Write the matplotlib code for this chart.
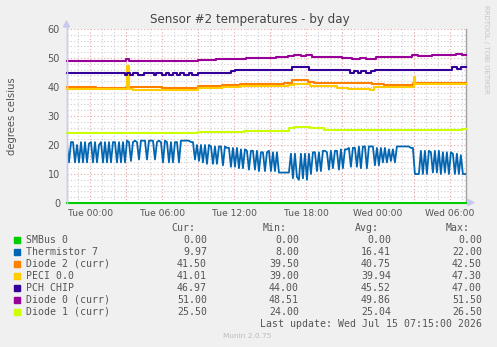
import matplotlib
matplotlib.use("Agg")
import matplotlib.pyplot as plt
from matplotlib.patches import Rectangle, Polygon
import numpy as np

W, H = 497, 347

# ---------------- data ----------------
names = ["SMBus 0", "Thermistor 7", "Diode 2 (curr)", "PECI 0.0",
         "PCH CHIP", "Diode 0 (curr)", "Diode 1 (curr)"]
colors = ["#00cc00", "#0066b3", "#ff8000", "#ffcc00",
          "#330099", "#990099", "#ccff00"]
cur = ["0.00", "9.97", "41.50", "41.01", "46.97", "51.00", "25.50"]
mins = ["0.00", "8.00", "39.50", "39.00", "44.00", "48.51", "24.00"]
avgs = ["0.00", "16.41", "40.75", "39.94", "45.52", "49.86", "25.04"]
maxs = ["0.00", "22.00", "42.50", "47.30", "47.00", "51.50", "26.50"]

x_start, x_end = -1.93, 31.33          # hours relative to Tue 00:00
tick_hours = [0, 6, 12, 18, 24, 30]
tick_labels = ["Tue 00:00", "Tue 06:00", "Tue 12:00",
               "Tue 18:00", "Wed 00:00", "Wed 06:00"]

smbus_t = [-1.93]
smbus_v = [0.0]

# Thermistor 7 : one value every 10 minutes
therm_step = 1 / 6
therm_v = [20, 14, 21, 21, 14, 20, 14, 21, 14, 21,
           14, 20.5, 21, 14, 21, 14, 20, 21, 14, 21,
           14, 21, 14, 21, 21, 14, 21, 14, 21, 14,
           21.5, 21, 14.5, 21, 21.5, 21, 15, 21.5, 21.5, 21.5,
           15, 21.5, 21.5, 21.5, 15, 21, 21.5, 21, 14, 21.5,
           21, 14, 21, 14, 21, 21, 14, 21.5, 21.5, 21.5,
           21.5, 21.5, 21, 21, 15, 20, 14.5, 20, 14, 20,
           13.5, 20, 19.5, 13.5, 19.5, 13.5, 19.5, 19.5, 13, 19.5,
           19, 19, 12.5, 19, 12.5, 19, 12, 18.5, 12, 18.5,
           18, 11.5, 18, 18, 11.5, 18, 11, 17.5, 17.5, 11,
           17.5, 18, 11, 17.5, 11, 17.5, 10.5, 10.5, 10.5, 10.5,
           10.5, 10.5, 17, 8.5, 17, 9, 8, 17, 8.5, 17,
           8, 17, 10, 17.5, 17.5, 11, 17.5, 11, 18, 18,
           17.5, 11.5, 18, 12, 18, 18, 11.5, 18.5, 12, 18.5,
           18.5, 19, 12.5, 19, 19, 12.5, 19.5, 12, 19.5, 19.5,
           12, 19.5, 19.5, 19.5, 13, 19, 13, 19, 14, 19,
           14, 18.5, 14.5, 18.5, 14, 19.5, 19.5, 19.5, 19.5, 19.5,
           19.5, 19.5, 19, 19, 10, 10, 10, 18, 10, 18,
           10, 18, 17.5, 10.5, 18, 10.5, 18, 10, 17.5, 10.5,
           17.5, 10, 17.5, 17, 10, 17, 10, 16.5, 10, 10]

diode2_t = [-1.93, 0.5, 3.0, 6.0, 9.0, 11.0, 12.5, 16.2, 16.8, 18.2, 18.7, 23.0, 23.5, 24.5, 26.9]
diode2_v = [40.0, 39.8, 40.0, 39.8, 40.2, 40.6, 41.0, 41.5, 42.4, 41.8, 41.5, 41.3, 41.0, 40.8, 41.5]

peci_t = [-1.93, 3.0, 3.05, 3.2, 3.6, 9.0, 11.0, 12.5, 16.5, 17.0, 18.3, 20.2, 20.6, 21.5, 23.3, 23.7, 27.0, 27.12]
peci_v = [39.4, 39.2, 47.3, 39.3, 39.0, 39.5, 40.0, 40.3, 40.6, 41.2, 40.4, 40.2, 39.8, 39.4, 39.0, 40.0, 43.5, 41.0]

pch_t = [-1.93, 2.9, 3.1, 3.3, 3.6, 4.0, 4.5, 5.3, 5.5, 6.0, 6.3, 6.6, 6.9, 7.2, 7.5, 7.8, 8.2, 8.5, 9.0,
         11.7, 12.1, 16.8, 18.25, 21.7, 22.0, 22.3, 22.6, 23.0, 23.4, 23.75, 30.2, 30.6, 30.9]
pch_v = [45, 44, 45, 44, 45, 44, 45, 44, 45, 44, 45, 44, 45, 44, 45, 44, 45, 44, 45,
         45.5, 46, 47, 46, 45, 45.6, 45, 45.6, 45, 45.6, 46, 47, 46.2, 47]

diode0_t = [-1.93, -0.5, 1.5, 3.0, 3.2, 5.0, 7.5, 9.0, 10.0, 10.5, 12.0, 13.0, 15.5, 16.5, 17.0, 17.6, 18.0,
            18.5, 21.0, 21.8, 22.5, 23.0, 23.8, 26.8, 27.3, 28.5, 30.5, 31.0]
diode0_v = [49.1, 49.0, 49.1, 49.5, 49.1, 48.9, 49.0, 49.4, 49.2, 49.7, 49.6, 50.0, 50.2, 50.6, 51.2, 50.6, 51.0,
            50.4, 50.0, 49.6, 50.0, 49.6, 50.2, 51.0, 50.8, 51.0, 51.3, 51.0]

diode1_t = [-1.93, 9.0, 12.8, 16.6, 17.0, 18.3, 19.5, 21.0, 31.0]
diode1_v = [24.2, 24.5, 25.0, 25.8, 26.3, 25.7, 25.3, 25.1, 25.5]

# ---------------- figure ----------------
def fx(px):
    return px / W

def fy(py):
    return 1 - py / H

fig = plt.figure(figsize=(W / 100, H / 100), dpi=100, facecolor="#f0f0f0")
ax = fig.add_axes([fx(67), fy(203), (466 - 67) / W, (203 - 29) / H])
ax.set_facecolor("white")
ax.set_xlim(x_start, x_end)
ax.set_ylim(0, 60)

# grid
ax.set_xticks(np.arange(-1, 32, 1), minor=True)
ax.set_xticks(tick_hours)
ax.set_xticklabels(tick_labels)
ax.set_yticks(np.arange(0, 61, 10))
ax.set_yticks(np.arange(0, 61, 2), minor=True)
ax.grid(which="minor", color="#cfcfcf", linestyle=(0, (1, 2)), linewidth=0.8)
for h in np.arange(0, 32, 3):
    ax.axvline(h, color="#e8a8a8", linestyle=(0, (1, 2)), linewidth=0.8, zorder=1)
for v in range(10, 61, 10):
    ax.axhline(v, color="#e8a8a8", linestyle=(0, (1, 2)), linewidth=0.8, zorder=1)
ax.set_axisbelow(True)
ax.tick_params(which="both", length=0)
ax.tick_params(axis="x", labelsize=6.6, colors="#555555", pad=4)
ax.tick_params(axis="y", labelsize=7, colors="#555555", pad=5)

for s in ["top", "bottom"]:
    ax.spines[s].set_visible(False)
ax.spines["left"].set_color("#ccccee")
ax.spines["left"].set_linewidth(1.0)
ax.spines["right"].set_color("#a0a0a0")
ax.spines["right"].set_linewidth(1.0)

lw = 1.5

def step_series(t, v, color):
    tt = list(t) + [x_end]
    vv = list(v) + [v[-1]]
    ax.step(tt, vv, where="post", color=color, linewidth=lw, clip_on=False, zorder=3)

step_series(smbus_t, smbus_v, colors[0])
therm_t = [x_start + i * therm_step for i in range(len(therm_v))]
ax.plot(therm_t + [x_end], therm_v + [therm_v[-1]],
        color=colors[1], linewidth=1.3, zorder=3)
step_series(diode2_t, diode2_v, colors[2])
step_series(peci_t, peci_v, colors[3])
step_series(pch_t, pch_v, colors[4])
step_series(diode0_t, diode0_v, colors[5])
step_series(diode1_t, diode1_v, colors[6])

# axis arrows
fig.add_artist(plt.Line2D([fx(66.7), fx(66.7)], [fy(203), fy(24)], color="#ccccee", linewidth=1.0))
fig.add_artist(Polygon([[fx(63.5), fy(27)], [fx(69.5), fy(27)], [fx(66.5), fy(21)]],
                       closed=True, color="#c8c8f0", transform=fig.transFigure))
fig.add_artist(Polygon([[fx(468), fy(199.5)], [fx(468), fy(205.5)], [fx(474), fy(202.5)]],
                       closed=True, color="#c8c8f0", transform=fig.transFigure))

# titles
fig.text(fx(250), fy(19), "Sensor #2 temperatures - by day", ha="center", va="center",
         fontsize=8.6, color="#444444")
fig.text(fx(12), fy(116), "degrees celsius", rotation=90, ha="center", va="center",
         fontsize=7.2, color="#555555")
fig.text(fx(486), fy(5), "RRDTOOL / TOBI OETIKER", rotation=270, ha="center", va="top",
         fontsize=5, color="#c4c4c4")

# legend
mono = "DejaVu Sans Mono"
fs = 7.1
tc = "#555555"
hy = 228
for xr, h in zip([195, 287, 379, 470], ["Cur:", "Min:", "Avg:", "Max:"]):
    fig.text(fx(xr), fy(hy), h, ha="right", va="center", family=mono, fontsize=fs, color=tc)
for i, name in enumerate(names):
    y = 240 + 12 * i
    fig.add_artist(Rectangle((fx(14), fy(y + 2.8)), 5.5 / W, 5.5 / H, color=colors[i],
                             transform=fig.transFigure))
    fig.text(fx(26), fy(y), name, ha="left", va="center", family=mono, fontsize=fs, color=tc)
    for xr, col in zip([207, 299, 391, 482], [cur, mins, avgs, maxs]):
        fig.text(fx(xr), fy(y), col[i], ha="right", va="center", family=mono, fontsize=fs, color=tc)
fig.text(fx(482), fy(324), "Last update: Wed Jul 15 07:15:00 2026", ha="right", va="center",
         family=mono, fontsize=fs, color=tc)
fig.text(fx(223), fy(336), "Munin 2.0.75", ha="left", va="center", fontsize=5.3, color="#bbbbbb")

fig.savefig("out.png", dpi=100, facecolor=fig.get_facecolor())
